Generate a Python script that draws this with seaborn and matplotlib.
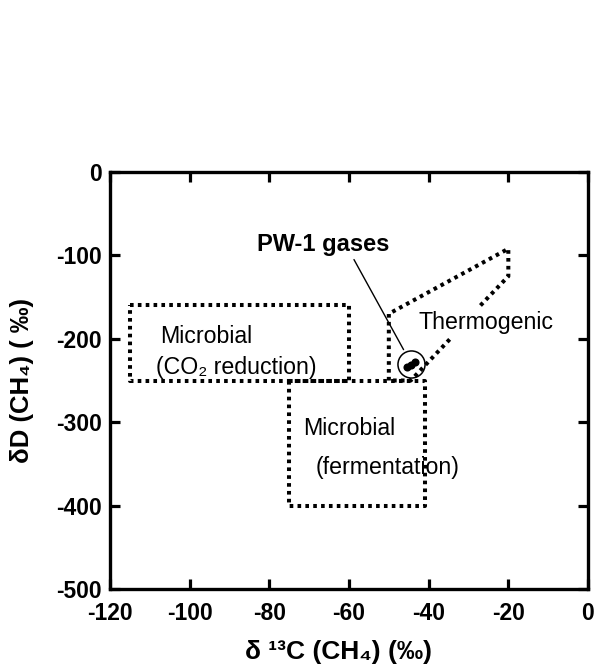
import matplotlib
matplotlib.use("Agg")
import matplotlib.pyplot as plt
import seaborn as sns
import pandas as pd

# ---- data ----
co2_x = [-115, -60, -60, -115, -115]
co2_y = [-160, -160, -250, -250, -160]
ferm_x = [-75, -41, -41, -75, -75]
ferm_y = [-250, -250, -400, -400, -250]
thermo_x = [-27, -20, -20, -50, -50, -44.5, -34]
thermo_y = [-160, -125, -92, -170, -250, -250, -197]
pw1_x = [-45.5, -44.5, -43.5]
pw1_y = [-234, -231, -228]
circle_c = (-44.5, -230)
leader_x = [-58.75, -46.3]
leader_y = [-105, -213]
xticks = [-120, -100, -80, -60, -40, -20, 0]
yticks = [0, -100, -200, -300, -400, -500]

sns.set_theme(style="ticks")
plt.rcParams['font.family'] = ['Liberation Sans', 'DejaVu Sans']
plt.rcParams['text.color'] = 'black'
plt.rcParams['axes.labelcolor'] = 'black'

fig = plt.figure(figsize=(5.96, 6.69), dpi=100)
ax = fig.add_axes([110/596, 1-589/669, 478/596, 417/669])

dot = dict(color="black", lw=2.9, linestyle=(0, (0.9, 1.05)),
           dash_capstyle="butt")
ax.plot(co2_x, co2_y, **dot)
ax.plot(ferm_x, ferm_y, **dot)
ax.plot(thermo_x, thermo_y, **dot)

pts = pd.DataFrame({"x": pw1_x, "y": pw1_y})
sns.scatterplot(data=pts, x="x", y="y", ax=ax, color="black", s=34,
                edgecolor="black", linewidth=0, zorder=5)
ax.plot([circle_c[0]], [circle_c[1]], marker="o", markersize=19.5, mfc="none",
        mec="black", mew=1.1, linestyle="none")
ax.plot(leader_x, leader_y, color="black", lw=1.0)

ax.text(-66.5, -87, "PW-1 gases", fontsize=17, fontweight="bold",
        ha="center", va="center", color="black")
ax.text(-107.5, -197, "Microbial", fontsize=16.7, ha="left", va="center", color="black")
ax.text(-108.5, -234, "(CO₂ reduction)", fontsize=16.7, ha="left", va="center", color="black")
ax.text(-42.5, -180, "Thermogenic", fontsize=16.7, ha="left", va="center", color="black")
ax.text(-71.5, -307, "Microbial", fontsize=16.7, ha="left", va="center", color="black")
ax.text(-68.5, -354, "(fermentation)", fontsize=16.7, ha="left", va="center", color="black")

ax.set_xlim(-120, 0)
ax.set_ylim(-500, 0)
ax.set_xticks(xticks)
ax.set_yticks(yticks)
ax.set_xticklabels([str(t) for t in xticks], fontweight="bold")
ax.set_yticklabels([str(t) for t in yticks], fontweight="bold")
ax.tick_params(direction="in", length=7, width=2.3, labelsize=16.5,
               top=True, right=True, colors="black")
ax.tick_params(axis="x", pad=9)
ax.tick_params(axis="y", pad=6)
for s in ax.spines.values():
    s.set_linewidth(2.4)
    s.set_color("black")
    s.set_visible(True)

ax.set_xlabel("δ ¹³C (CH₄) (‰)", fontsize=19, fontweight="bold")
ax.set_ylabel("δD (CH₄) ( ‰)", fontsize=18.5, fontweight="bold")
ax.xaxis.label.set_va("center")
ax.yaxis.label.set_va("center")
ax.xaxis.set_label_coords(0.477, -0.152)
ax.yaxis.set_label_coords(-0.185, 0.5)

fig.savefig("out.png", dpi=100)
